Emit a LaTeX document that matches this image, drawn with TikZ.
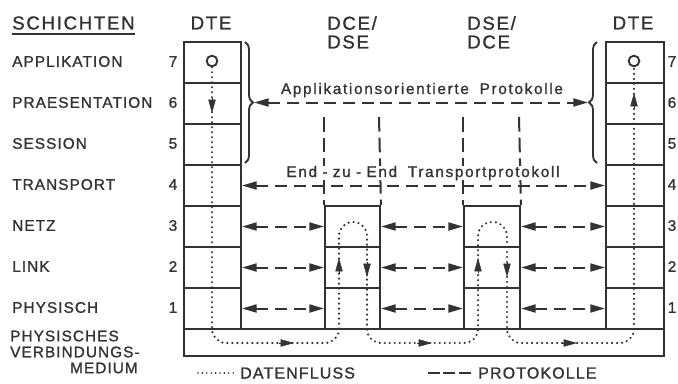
\documentclass[tikz,border=0pt]{standalone}
\usepackage{fontspec}
\setmainfont{Liberation Sans}
\newfontfamily\lblfont[LetterSpace=7,FakeBold=1.2]{Liberation Sans}
\newfontfamily\headfont[LetterSpace=9,FakeBold=1.2]{Liberation Sans}
\newfontfamily\protfont[LetterSpace=11,WordSpace=1.8,FakeBold=1.2]{Liberation Sans}
\usetikzlibrary{arrows.meta,decorations.pathreplacing}
\definecolor{ink}{gray}{0.2}
\begin{document}
\begin{tikzpicture}[x=0.75pt,y=-0.75pt,
  cell/.style={draw=ink, line width=1.5pt, inner sep=0pt, anchor=north west, minimum height=30.75pt},
  dte/.style={cell, minimum width=42.75pt},
  rte/.style={cell, minimum width=43.5pt},
  mida/.style={cell, minimum width=41.25pt},
  midb/.style={cell, minimum width=42pt},
  prot/.style={draw=ink, line width=1.5pt, dash pattern=on 9pt off 5pt},
  protarr/.style={prot, {Triangle[length=11pt,width=6pt]}-{Triangle[length=11pt,width=6pt]}},
  flow/.style={draw=ink, line width=1.8pt, line cap=round, dash pattern=on 0pt off 3.75pt},
  ftip/.style={draw=ink, line width=0.3pt, -{Triangle[length=10pt,width=5.5pt]}},
  brc/.style={draw=ink, line width=1.4pt, decorate, decoration={brace, amplitude=6pt}},
  lbl/.style={font=\lblfont\fontsize{11.5}{13}\selectfont, text=ink, inner sep=0pt},
  head/.style={font=\headfont\fontsize{14}{16}\selectfont, text=ink, inner sep=0pt},
  ptxt/.style={font=\protfont\fontsize{11.5}{13}\selectfont, text=ink, inner sep=0pt},
  ring/.style={circle, draw=ink, line width=1.4pt, inner sep=0pt, minimum size=8pt}
]
\useasboundingbox (0,0) rectangle (678,383);

% headers
\node[head, anchor=west] (sch) at (12,23) {SCHICHTEN};
\draw[ink, line width=1.3pt] ([yshift=-3pt]sch.south west) -- ([yshift=-3pt]sch.south east);
\node[head] (hdl) at (211,23) {DTE};
\node[head, anchor=west] (hda1) at (327,23) {DCE/};
\node[head, anchor=west] (hda2) at (327,42) {DSE};
\node[head, anchor=west] (hdb1) at (467,23) {DSE/};
\node[head, anchor=west] (hdb2) at (467,42) {DCE};
\node[head] (hdr) at (633,23) {DTE};

% layer labels
\node[lbl, anchor=west] (n7) at (12,61.5) {APPLIKATION};
\node[lbl, anchor=west] (n6) at (12,102.5) {PRAESENTATION};
\node[lbl, anchor=west] (n5) at (12,143.5) {SESSION};
\node[lbl, anchor=west] (n4) at (12,184.5) {TRANSPORT};
\node[lbl, anchor=west] (n3) at (12,225.5) {NETZ};
\node[lbl, anchor=west] (n2) at (12,266.5) {LINK};
\node[lbl, anchor=west] (n1) at (12,307.5) {PHYSISCH};
\node[lbl, anchor=west] (m1) at (10,336) {PHYSISCHES};
\node[lbl, anchor=west] (m2) at (10,352) {VERBINDUNGS-};
\node[lbl, anchor=east] (m3) at (138,368) {MEDIUM};

% numbers
\foreach \k/\yy in {7/61.5,6/102.5,5/143.5,4/184.5,3/225.5,2/266.5,1/307.5}{
  \node[lbl] (kl\k) at (173,\yy) {\k};
  \node[lbl] (kr\k) at (672,\yy) {\k};
}

% stacks
\node[dte] (L7) at (183,41) {};
\node[dte] (L6) at (183,82) {};
\node[dte] (L5) at (183,123) {};
\node[dte] (L4) at (183,164) {};
\node[dte] (L3) at (183,205) {};
\node[dte] (L2) at (183,246) {};
\node[dte] (L1) at (183,287) {};
\node[rte] (R7) at (605,41) {};
\node[rte] (R6) at (605,82) {};
\node[rte] (R5) at (605,123) {};
\node[rte] (R4) at (605,164) {};
\node[rte] (R3) at (605,205) {};
\node[rte] (R2) at (605,246) {};
\node[rte] (R1) at (605,287) {};
\node[mida] (A3) at (324,205) {};
\node[mida] (A2) at (324,246) {};
\node[mida] (A1) at (324,287) {};
\node[midb] (B3) at (463,205) {};
\node[midb] (B2) at (463,246) {};
\node[midb] (B1) at (463,287) {};
\node[cell, minimum width=360pt, minimum height=20.25pt] (M) at (183,328) {};

% vertical protocol dashes
\coordinate (va) at (324,117);
\coordinate (vb) at (379,117);
\coordinate (vc) at (463,117);
\coordinate (vd) at (519,117);
\draw[prot, dash pattern=on 11pt off 4.5pt] (va) -- (A3.north west);
\draw[prot, dash pattern=on 11pt off 4.5pt] (vb) -- (A3.north east);
\draw[prot, dash pattern=on 11pt off 4.5pt] (vc) -- (B3.north west);
\draw[prot, dash pattern=on 11pt off 4.5pt] (vd) -- (B3.north east);

% braces
\draw[brc] (245,42) -- (245,163);
\draw[brc] (597,163) -- (597,42);
\coordinate (bl) at (254,102.5);
\coordinate (br) at (588,102.5);

% protocol arrows
\draw[protarr] (bl) -- (br);
\node[ptxt, anchor=base] (tapp) at (422,94) {Applikationsorientierte Protokolle};
\draw[protarr] (L4.east) -- (R4.west);
\node[ptxt, anchor=base, fill=white] (ttr) at (423,177) {End\kern4pt-\kern4pt zu\kern4pt-\kern4pt End Transportprotokoll};
\foreach \r in {3,2,1}{
  \draw[protarr] (L\r.east) -- (A\r.west);
  \draw[protarr] (A\r.east) -- (B\r.west);
  \draw[protarr] (B\r.east) -- (R\r.west);
}

% data flow
\node[ring] (cL) at (212,61) {};
\node[ring] (cR) at (634,61) {};
\draw[flow, rounded corners=10.5pt] (cL.south) -- (212,343) -- (339,343) -- (339,222) -- (367,222) -- (367,343)
  -- (478,343) -- (478,222) -- (507,222) -- (507,343) -- (634,343) -- (cR.south);
\draw[ftip] (212,98) -- (212,113);
\draw[ftip] (634,108) -- (634,93);
\draw[ftip] (279,343) -- (294,343);
\draw[ftip] (417,343) -- (432,343);
\draw[ftip] (562,343) -- (577,343);
\draw[ftip] (339,273) -- (339,258);
\draw[ftip] (367,262) -- (367,277);
\draw[ftip] (478,273) -- (478,258);
\draw[ftip] (507,262) -- (507,277);

% legend
\coordinate (lf) at (198,373);
\node[lbl, anchor=west, font=\lblfont\fontsize{12}{14}\selectfont] (leg1) at (240,373) {DATENFLUSS};
\draw[flow, line width=1.4pt, dash pattern=on 0pt off 3.3pt] (lf) -- ([xshift=-5pt]leg1.west);
\coordinate (lp) at (428,373);
\node[lbl, anchor=west, font=\lblfont\fontsize{12}{14}\selectfont] (leg2) at (478,373) {PROTOKOLLE};
\draw[prot, dash pattern=on 9pt off 2.5pt] (lp) -- ([xshift=-4pt]leg2.west);
\end{tikzpicture}
\end{document}
